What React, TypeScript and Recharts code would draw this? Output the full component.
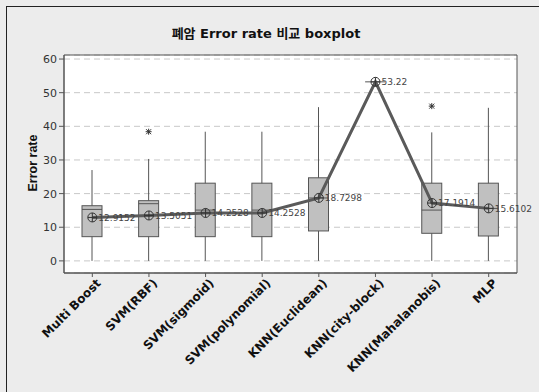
import {
  ComposedChart,
  Bar,
  Line,
  XAxis,
  YAxis,
  CartesianGrid,
  LabelList,
  ReferenceArea,
  Label,
} from "recharts";

const categories = [
  "Multi Boost",
  "SVM(RBF)",
  "SVM(sigmoid)",
  "SVM(polynomial)",
  "KNN(Euclidean)",
  "KNN(city-block)",
  "KNN(Mahalanobis)",
  "MLP",
];
const whiskerLow = [0, 0, 0, 0, 0, 53.22, 0, 0];
const q1 = [7.2, 7.2, 7.2, 7.2, 8.9, 53.22, 8.2, 7.4];
const median = [15.3, 17.0, 15.1, 15.1, 18.7, 53.22, 15.1, 15.6];
const q3 = [16.4, 17.9, 23.1, 23.1, 24.7, 53.22, 23.1, 23.1];
const whiskerHigh = [27.0, 30.3, 38.4, 38.4, 45.7, 53.22, 38.2, 45.5];
const outliers = [[], [38.4], [], [], [], [], [46.0], []];
const means = [12.9152, 13.5051, 14.2528, 14.2528, 18.7298, 53.22, 17.1914, 15.6102];

const yTicks = [0, 10, 20, 30, 40, 50, 60];
const gridTicks = [0, 5, 10, 15, 20, 25, 30, 35, 40, 45, 50, 55, 60];
const yDomain = [-3.6, 61.2];

type Row = {
  name: string;
  low: number;
  q1: number;
  median: number;
  q3: number;
  high: number;
  outliers: number[];
  mean: number;
};

const data: Row[] = categories.map((name, i) => ({
  name,
  low: whiskerLow[i],
  q1: q1[i],
  median: median[i],
  q3: q3[i],
  high: whiskerHigh[i],
  outliers: outliers[i],
  mean: means[i],
}));

const EDGE = "#555";

// bar runs from 0 up to the top whisker, so its geometry gives the y scale
function BoxShape(props: any) {
  const { x, y, width, height, payload } = props;
  const p = payload as Row;
  const base = y + height;
  const k = height / p.high;
  const yOf = (v: number) => base - v * k;
  const cx = x + width / 2;
  const top = yOf(p.q3);
  const bot = yOf(p.q1);
  return (
    <g>
      <line x1={cx} x2={cx} y1={yOf(p.high)} y2={yOf(p.low)} stroke={EDGE} strokeWidth={1} />
      <rect
        x={x}
        y={top}
        width={width}
        height={Math.max(bot - top, 0)}
        fill="#c0c0c0"
        stroke={EDGE}
        strokeWidth={1}
      />
      <line x1={x} x2={x + width} y1={yOf(p.median)} y2={yOf(p.median)} stroke={EDGE} strokeWidth={1} />
      {p.outliers.map((o, j) => {
        const oy = yOf(o);
        return (
          <g key={j} stroke="#333" strokeWidth={1}>
            <line x1={cx - 3} x2={cx + 3} y1={oy} y2={oy} />
            <line x1={cx} x2={cx} y1={oy - 3} y2={oy + 3} />
            <line x1={cx - 2.5} x2={cx + 2.5} y1={oy - 2.5} y2={oy + 2.5} />
            <line x1={cx - 2.5} x2={cx + 2.5} y1={oy + 2.5} y2={oy - 2.5} />
          </g>
        );
      })}
    </g>
  );
}

function MeanDot(props: any) {
  const { cx, cy } = props;
  if (cx == null || cy == null) return null;
  return (
    <g stroke="#333" strokeWidth={1} fill="none">
      <circle cx={cx} cy={cy} r={4.5} />
      <line x1={cx - 4.5} x2={cx + 4.5} y1={cy} y2={cy} />
      <line x1={cx} x2={cx} y1={cy - 4.5} y2={cy + 4.5} />
    </g>
  );
}

function XTick(props: any) {
  const { x, y, payload } = props;
  return (
    <g transform={`translate(${x},${y})`}>
      <text
        x={0}
        y={0}
        dx={3}
        dy={10}
        textAnchor="end"
        transform="rotate(-45)"
        fontSize={12}
        fontWeight="bold"
        fontFamily="DejaVu Sans, sans-serif"
        fill="#111"
      >
        {payload.value}
      </text>
    </g>
  );
}

export default function App() {
  return (
    <div
      style={{
        position: "absolute",
        left: 0,
        top: 0,
        width: 539,
        height: 392,
        background: "#ececec",
        overflow: "hidden",
      }}
    >
      <div
        style={{
          position: "absolute",
          left: 6,
          top: 6,
          width: 540,
          height: 400,
          borderLeft: "1px solid #222",
          borderTop: "1px solid #222",
        }}
      />
      <ComposedChart
        width={539}
        height={392}
        data={data}
        margin={{ top: 55, right: 22, bottom: 0, left: 0 }}
        barCategoryGap={0}
        style={{ position: "absolute", left: 0, top: 0 }}
      >
        <text
          x={266}
          y={38}
          textAnchor="middle"
          fontSize={13}
          fontWeight="bold"
          fontFamily="DejaVu Sans, Noto Sans CJK KR, sans-serif"
          fill="#111"
        >
          폐암 Error rate 비교 boxplot
        </text>
        <CartesianGrid
          yAxisId="grid"
          vertical={false}
          fill="#fff"
          stroke="#c8c8c8"
          strokeDasharray="6 4"
        />
        <XAxis
          dataKey="name"
          height={119}
          interval={0}
          tick={<XTick />}
          tickSize={4}
          stroke={EDGE}
          tickLine={{ stroke: EDGE }}
        />
        <YAxis
          yAxisId="grid"
          hide
          type="number"
          domain={yDomain}
          ticks={gridTicks}
          allowDataOverflow
        />
        <YAxis
          type="number"
          width={64}
          domain={yDomain}
          ticks={yTicks}
          allowDataOverflow
          tickSize={5}
          tickMargin={2}
          stroke={EDGE}
          tick={{ fontSize: 11, fill: "#333", fontFamily: "DejaVu Sans, sans-serif" }}
        >
          <Label
            content={() => (
              <text
                x={37}
                y={163}
                textAnchor="middle"
                transform="rotate(-90 37 163)"
                fontSize={12.5}
                fontWeight="bold"
                fontFamily="Liberation Sans, Arial, sans-serif"
                fill="#111"
              >
                Error rate
              </text>
            )}
          />
        </YAxis>
        <ReferenceArea y1={yDomain[0]} y2={yDomain[1]} fill="none" stroke={EDGE} strokeWidth={1} />
        <Bar dataKey="high" barSize={20} shape={<BoxShape />} isAnimationActive={false} />
        <Line
          dataKey="mean"
          type="linear"
          stroke="#5a5a5a"
          strokeWidth={3}
          dot={<MeanDot />}
          activeDot={false}
          isAnimationActive={false}
        >
          <LabelList
            dataKey="mean"
            position="right"
            offset={6}
            fontSize={9}
            fill="#444"
            fontFamily="DejaVu Sans, sans-serif"
          />
        </Line>
      </ComposedChart>
    </div>
  );
}
